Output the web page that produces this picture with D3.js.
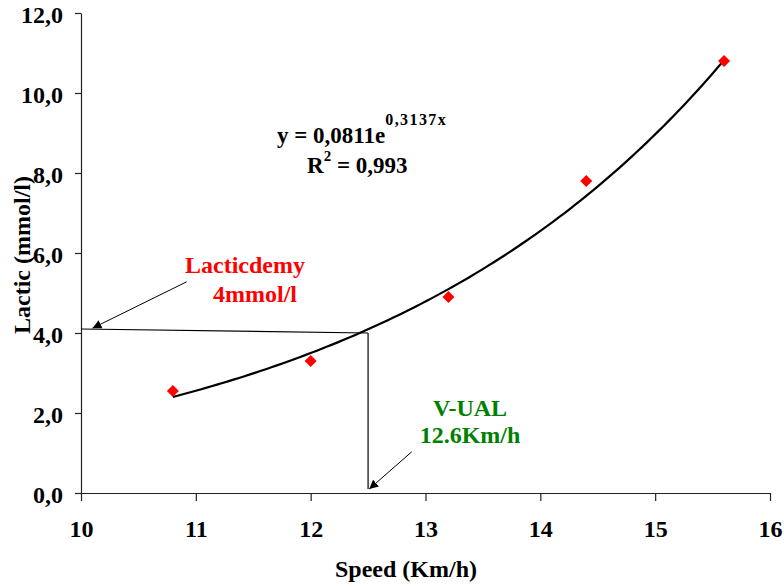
<!DOCTYPE html>
<html>
<head>
<meta charset="utf-8">
<script src="https://cdn.jsdelivr.net/npm/d3@7"></script>
<style>
  body { margin: 0; background: #fff; }
  text { font-family: "Liberation Serif", Tinos, "Times New Roman", Times, "DejaVu Serif", serif; font-weight: bold; }
</style>
</head>
<body>
<div id="chart"></div>
<script>
// measured points (speed km/h, lactate mmol/l)
var speed = [10.8, 12.0, 13.2, 14.4, 15.6];
var lactic = [2.55, 3.3, 4.9, 7.8, 10.8];

var xTicks = [10, 11, 12, 13, 14, 15, 16];
var yTicks = [0, 2, 4, 6, 8, 10, 12];

// exponential trendline given on the chart: y = a * e^(b x)
var trendA = 0.0811;
var trendB = 0.3137;
var trendFrom = 10.8;
var trendTo = 15.6;

// annotation lines in data units
var guideLines = [
  { x1: 10, y1: 4.1, x2: 12.5, y2: 4.0 },
  { x1: 12.5, y1: 4.0, x2: 12.5, y2: 0.1 }
];
var arrows = [
  { x1: 10.92, y1: 5.28, x2: 10.1, y2: 4.12 },
  { x1: 12.88, y1: 1.03, x2: 12.51, y2: 0.1 }
];

var width = 784;
var height = 587;
var margin = { top: 13, left: 81, bottom: 94, right: 14 };
var fontStack = "'Liberation Serif', Tinos, 'Times New Roman', Times, 'DejaVu Serif', serif";

var svg = d3
  .select("#chart")
  .append("svg")
  .attr("width", width)
  .attr("height", height);

var x = d3.scaleLinear().domain([10, 16]).range([margin.left, width - margin.right]);
var y = d3.scaleLinear().domain([0, 12]).range([height - margin.bottom, margin.top]);

svg.append("defs")
  .append("marker")
  .attr("id", "head")
  .attr("viewBox", "0 0 10 10")
  .attr("refX", 10)
  .attr("refY", 5)
  .attr("markerWidth", 9)
  .attr("markerHeight", 9)
  .attr("markerUnits", "userSpaceOnUse")
  .attr("orient", "auto")
  .append("path")
  .attr("d", "M0,0L10,5L0,10z")
  .attr("fill", "black");

// axes
var xAxis = svg.append("g")
  .attr("transform", "translate(0," + y(0) + ")")
  .call(d3.axisBottom(x).tickValues(xTicks).tickSize(8).tickSizeOuter(0).tickFormat(d3.format("d")));
var yAxis = svg.append("g")
  .attr("transform", "translate(" + x(10) + ",0)")
  .call(d3.axisLeft(y).tickValues(yTicks).tickSize(6).tickSizeOuter(0)
    .tickFormat(function(d) { return d3.format(".1f")(d).replace(".", ","); }));

[xAxis, yAxis].forEach(function(g) {
  g.attr("font-family", fontStack);
  g.select(".domain").attr("stroke", "#222").attr("stroke-width", 1.2);
  g.selectAll(".tick line").attr("stroke", "#222").attr("stroke-width", 1.2);
  g.selectAll("text")
    .attr("font-weight", "bold")
    .attr("font-size", "24px")
    .attr("fill", "black");
});
xAxis.selectAll("text").attr("y", 44).attr("dy", 0);
yAxis.selectAll("text").attr("x", -18).attr("dy", "0.38em");

// axis titles
svg.append("text")
  .attr("x", 406)
  .attr("y", 577)
  .attr("text-anchor", "middle")
  .attr("font-size", "24px")
  .text("Speed (Km/h)");
svg.append("text")
  .attr("transform", "translate(30,255) rotate(-90)")
  .attr("text-anchor", "middle")
  .attr("font-size", "24px")
  .text("Lactic (mmol/l)");

// trendline
var trend = d3.range(0, 101).map(function(i) {
  var sx = trendFrom + (trendTo - trendFrom) * i / 100;
  return [sx, trendA * Math.exp(trendB * sx)];
});
svg.append("path")
  .datum(trend)
  .attr("fill", "none")
  .attr("stroke", "black")
  .attr("stroke-width", 2.2)
  .attr("d", d3.line().x(function(d) { return x(d[0]); }).y(function(d) { return y(d[1]); }));

// guide lines and arrows
svg.selectAll(".guide")
  .data(guideLines)
  .enter()
  .append("line")
  .attr("class", "guide")
  .attr("stroke", "black")
  .attr("stroke-width", 1.2)
  .attr("x1", function(d) { return x(d.x1); })
  .attr("y1", function(d) { return y(d.y1); })
  .attr("x2", function(d) { return x(d.x2); })
  .attr("y2", function(d) { return y(d.y2); });

svg.selectAll(".arrow")
  .data(arrows)
  .enter()
  .append("line")
  .attr("class", "arrow")
  .attr("stroke", "black")
  .attr("stroke-width", 1)
  .attr("marker-end", "url(#head)")
  .attr("x1", function(d) { return x(d.x1); })
  .attr("y1", function(d) { return y(d.y1); })
  .attr("x2", function(d) { return x(d.x2); })
  .attr("y2", function(d) { return y(d.y2); });

// points
svg.selectAll(".pt")
  .data(speed)
  .enter()
  .append("rect")
  .attr("class", "pt")
  .attr("width", 8.5)
  .attr("height", 8.5)
  .attr("x", -4.25)
  .attr("y", -4.25)
  .attr("fill", "red")
  .attr("transform", function(d, i) {
    return "translate(" + x(d) + "," + y(lactic[i]) + ") rotate(45)";
  });

// equation
var eq = svg.append("text")
  .attr("x", 277)
  .attr("y", 143)
  .attr("font-size", "23px");
eq.append("tspan").text("y = 0,0811e");
eq.append("tspan").attr("dy", -18).attr("font-size", "16px").attr("letter-spacing", "1.4px").text("0,3137x");

var r2 = svg.append("text")
  .attr("x", 307)
  .attr("y", 173)
  .attr("font-size", "23px");
r2.append("tspan").text("R");
r2.append("tspan").attr("dy", -12).attr("font-size", "15px").text("2");
r2.append("tspan").attr("dy", 12).text(" = 0,993");

// annotation labels
var labels = [
  { t: "Lacticdemy", cx: 245, by: 273, c: "red" },
  { t: "4mmol/l", cx: 255, by: 302, c: "red" },
  { t: "V-UAL", cx: 470, by: 416, c: "#008000" },
  { t: "12.6Km/h", cx: 470, by: 443, c: "#008000" }
];
svg.selectAll(".lab")
  .data(labels)
  .enter()
  .append("text")
  .attr("class", "lab")
  .attr("x", function(d) { return d.cx; })
  .attr("y", function(d) { return d.by; })
  .attr("text-anchor", "middle")
  .attr("font-size", "24px")
  .attr("fill", function(d) { return d.c; })
  .text(function(d) { return d.t; });
</script>
</body>
</html>
